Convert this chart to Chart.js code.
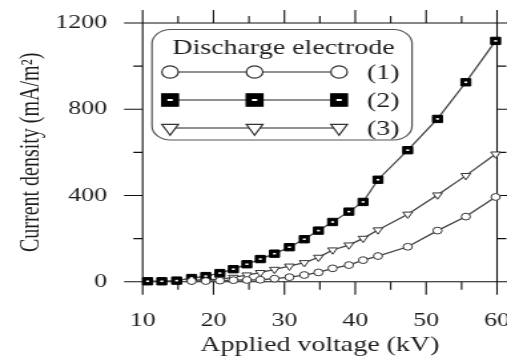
<!DOCTYPE html>
<html><head><meta charset="utf-8">
<script src="https://cdn.jsdelivr.net/npm/chart.js@4/dist/chart.umd.min.js"></script>
<style>
html,body{margin:0;padding:0;background:#fff;overflow:hidden}
#wrap{position:absolute;left:0;top:0;width:381px;height:358px;transform:scaleX(1.3307);transform-origin:0 0}
</style></head><body>
<div id="wrap"><canvas id="c"></canvas></div>
<script>
// ---- data ----
const xValues    = [10.7, 12.7, 14.8, 16.9, 18.9, 20.9, 22.8, 24.7, 26.6, 28.6, 30.7, 32.8, 34.8, 36.8, 39.1, 41.1, 43.2, 47.4, 51.6, 55.6, 59.8];
const electrode1 = [null, null, null, 3, 3, 5, 7, 8, 9, 14, 21, 31, 43, 62, 77, 100, 119, 162, 237, 302, 393];
const electrode2 = [2, 2, 5, 17, 26, 40, 58, 81, 105, 130, 160, 197, 237, 277, 325, 370, 473, 610, 755, 925, 1117];
const electrode3 = [null, null, null, 6, 9, 12, 20, 31, 42, 57, 72, 88, 113, 147, 170, 201, 240, 313, 402, 492, 592];
const seriesLabels = ['(1)', '(2)', '(3)'];
const legendTitle = 'Discharge electrode';
const xTitle = 'Applied voltage (kV)';
const yTitle = 'Current density (mA/m\u00B2)';

const SERIF = '"Liberation Serif","Times New Roman",serif';
const TXT = '#1e1e1e';
const LINE = '#444';

function pts(vals){ return xValues.map((x,i)=>({x:x,y:vals[i]})).filter(p=>p.y!==null); }

const styles = [
  {pointStyle:'circle', radius:3.4, rotation:0, bg:'#ffffff', border:'#333', lr:6.2},
  {pointStyle:'rect', radius:5.2, rotation:0, bg:'#000000', border:'#000', lr:8.8},
  {pointStyle:'triangle', radius:4.2, rotation:180, bg:'#ffffff', border:'#333', lr:7.2}
];
const allVals = [electrode1, electrode2, electrode3];

const datasets = allVals.map((v,i)=>({
  label: seriesLabels[i],
  data: pts(v),
  borderColor: LINE,
  borderWidth: 1.3,
  pointStyle: styles[i].pointStyle,
  pointRadius: styles[i].radius,
  pointRotation: styles[i].rotation,
  pointBackgroundColor: styles[i].bg,
  pointBorderColor: styles[i].border,
  pointBorderWidth: 1,
  pointHoverRadius: styles[i].radius,
  fill: false,
  tension: 0,
  clip: false
}));

const framePlugin = {
  id: 'frame',
  beforeDatasetsDraw(chart){
    const ctx = chart.ctx, xs = chart.scales.x, ys = chart.scales.y;
    const L = xs.getPixelForValue(10), R = xs.getPixelForValue(60);
    const B = ys.getPixelForValue(0), T = ys.getPixelForValue(1200);
    ctx.save();
    ctx.strokeStyle = '#111';
    ctx.lineWidth = 1.1;
    ctx.beginPath();
    ctx.moveTo(L-14, B); ctx.lineTo(R+14, B);
    ctx.moveTo(L-14, T); ctx.lineTo(R+14, T);
    ctx.moveTo(L, T-13); ctx.lineTo(L, B+13);
    ctx.moveTo(R, T-13); ctx.lineTo(R, B+13);
    for (let v=10; v<=60; v+=5){
      const px = xs.getPixelForValue(v);
      const major = (v % 10 === 0);
      ctx.moveTo(px, B); ctx.lineTo(px, B + (major?13:8));
      ctx.moveTo(px, T); ctx.lineTo(px, T - (major?13:7));
    }
    for (let v=0; v<=1200; v+=200){
      const py = ys.getPixelForValue(v);
      const major = (v % 400 === 0);
      ctx.moveTo(L, py); ctx.lineTo(L - (major?14:7), py);
      ctx.moveTo(R, py); ctx.lineTo(R + (major?14:7), py);
    }
    ctx.stroke();
    ctx.restore();
  }
};

function drawMarker(ctx, st, x, y, r){
  ctx.fillStyle = st.bg;
  ctx.strokeStyle = st.border;
  ctx.lineWidth = 1.2;
  Chart.helpers.drawPoint(ctx, {pointStyle: st.pointStyle, radius: r, rotation: st.rotation, borderWidth: 1.2}, x, y);
}

const legendPlugin = {
  id: 'legendBox',
  afterDatasetsDraw(chart){
    const ctx = chart.ctx;
    // white centre dots in the square markers
    const meta = chart.getDatasetMeta(1);
    ctx.save();
    ctx.fillStyle = '#fff';
    meta.data.forEach(p=>{ ctx.fillRect(p.x-1.1, p.y-0.8, 2.2, 1.6); });
    ctx.restore();

    const x0 = 114.2, y0 = 29.5, x1 = 309.6, y1 = 140, rad = 14;
    ctx.save();
    ctx.fillStyle = '#fff';
    ctx.strokeStyle = '#555';
    ctx.lineWidth = 1.2;
    ctx.beginPath();
    ctx.roundRect(x0, y0, x1-x0, y1-y0, rad);
    ctx.fill();
    ctx.stroke();
    ctx.fillStyle = TXT;
    ctx.font = '21px ' + SERIF;
    ctx.textAlign = 'center';
    ctx.textBaseline = 'middle';
    ctx.fillText(legendTitle, 213, 48);
    const rows = [72, 100, 128];
    const mx = [127.8, 191.3, 254.8];
    rows.forEach((ry, i)=>{
      ctx.strokeStyle = '#222';
      ctx.lineWidth = 1.2;
      ctx.beginPath();
      ctx.moveTo(mx[0], ry); ctx.lineTo(mx[2], ry);
      ctx.stroke();
      mx.forEach(px=>{
        drawMarker(ctx, styles[i], px, ry, styles[i].lr);
        if (i === 1){ ctx.fillStyle = '#fff'; ctx.fillRect(px-2, ry-1, 4, 2); }
      });
      ctx.fillStyle = TXT;
      ctx.font = '21px ' + SERIF;
      ctx.textAlign = 'left';
      ctx.textBaseline = 'middle';
      ctx.fillText(seriesLabels[i], 275.8, ry + 1);
    });
    ctx.restore();
  }
};

new Chart(document.getElementById('c'), {
  type: 'line',
  data: { datasets: datasets },
  options: {
    animation: false,
    responsive: true,
    maintainAspectRatio: false,
    layout: { padding: { left: 0, right: 7.5, top: 23, bottom: 0 } },
    plugins: { legend: { display: false }, tooltip: { enabled: false } },
    scales: {
      x: {
        type: 'linear', min: 10, max: 60,
        grid: { display: false, drawTicks: false },
        border: { display: false },
        ticks: { stepSize: 10, padding: 27, maxRotation: 0, autoSkip: false, color: TXT, font: { family: SERIF, size: 19.5 }, callback: v => String(v) },
        title: { display: true, text: xTitle, color: TXT, font: { family: SERIF, size: 21 }, padding: { top: 0, bottom: 0 } },
        afterFit(s){ s.height = 76.3; s.paddingLeft = 0; s.paddingRight = 0; }
      },
      y: {
        type: 'linear', min: 0, max: 1200,
        grid: { display: false, drawTicks: false },
        border: { display: false },
        ticks: { stepSize: 400, padding: 26.8, color: TXT, font: { family: SERIF, size: 19.5 }, callback: v => String(v) },
        title: { display: true, text: yTitle, color: TXT, font: { family: SERIF, size: 20 }, padding: { top: 11.7, bottom: 0 } },
        afterFit(s){ s.width = 107.2; s.paddingTop = 0; s.paddingBottom = 0; }
      }
    }
  },
  plugins: [framePlugin, legendPlugin]
});
</script></body></html>
